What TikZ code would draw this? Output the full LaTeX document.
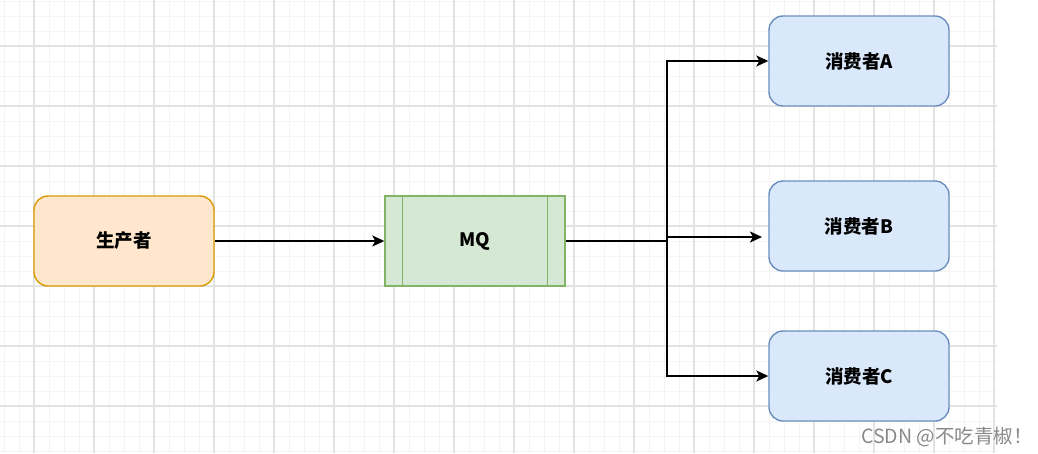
\documentclass[tikz,border=0pt]{standalone}
\usepackage{fontspec}
\newfontfamily\cjk{Noto Sans CJK SC}
\usetikzlibrary{arrows.meta}
\definecolor{gminor}{HTML}{F4F4F4}
\definecolor{gmajor}{HTML}{E3E3E3}
\definecolor{orfill}{HTML}{FFE6CC}
\definecolor{ordraw}{HTML}{D79B00}
\definecolor{grfill}{HTML}{D5E8D4}
\definecolor{grdraw}{HTML}{82B366}
\definecolor{blfill}{HTML}{DAE8FC}
\definecolor{bldraw}{HTML}{6C8EBF}
\definecolor{wmark}{HTML}{8A8A8A}
\tikzset{
  gridminor/.style={draw=gminor, line width=1pt},
  gridmajor/.style={draw=gmajor, line width=1.4pt},
  boxbase/.style={minimum width=180pt, minimum height=90pt, inner sep=0pt, line width=1.4pt, font=\cjk\bfseries\fontsize{18.5}{20}\selectfont},
  rbox/.style={boxbase, rounded corners=14pt},
  prodbox/.style={rbox, fill=orfill, draw=ordraw},
  consbox/.style={rbox, fill=blfill, draw=bldraw},
  mqbox/.style={boxbase, fill=grfill, draw=grdraw},
  mqline/.style={draw=grdraw, line width=1.4pt},
  conn/.style={line width=1.8pt, draw=black},
  arr/.style={conn, -{Stealth[length=12pt,width=11pt,inset=3pt]}},
}
\begin{document}
\begin{tikzpicture}[x=1pt,y=-1pt]
\useasboundingbox (0,0) rectangle (1038,453);
\fill[white] (0,0) rectangle (1038,453);
% grid
\foreach \x in {4,19,...,994} \draw[gridminor] (\x,0) -- (\x,453);
\foreach \y in {1,16,...,451} \draw[gridminor] (0,\y) -- (997,\y);
\foreach \x in {34,94,...,994} \draw[gridmajor] (\x,0) -- (\x,453);
\foreach \y in {46,106,...,406} \draw[gridmajor] (0,\y) -- (997,\y);
% nodes
\node[prodbox] (p) at (124,241) {生产者};
\node[mqbox] (mq) at (475,241) {MQ};
\draw[mqline] ([xshift=18pt]mq.north west) -- ([xshift=18pt]mq.south west);
\draw[mqline] ([xshift=-18pt]mq.north east) -- ([xshift=-18pt]mq.south east);
\node[consbox] (a) at (859,61) {消费者A};
\node[consbox] (b) at (859,226) {消费者B};
\node[consbox] (c) at (859,376) {消费者C};
% connectors
\coordinate (j) at (667,241);
\coordinate (jb) at (667,237);
\coordinate (be) at (762,237);
\draw[arr] (p) -- (mq);
\draw[conn] (mq.east) -- (j);
\draw[arr] (j) |- (a.west);
\draw[arr] (j) |- (c.west);
\draw[arr] (jb) -- (be);
% watermark
\node[anchor=base east, inner sep=0pt, text=wmark, font=\cjk\fontsize{19.5}{21}\selectfont] (wm) at (1033,443) {CSDN @不吃青椒！};
\end{tikzpicture}
\end{document}
